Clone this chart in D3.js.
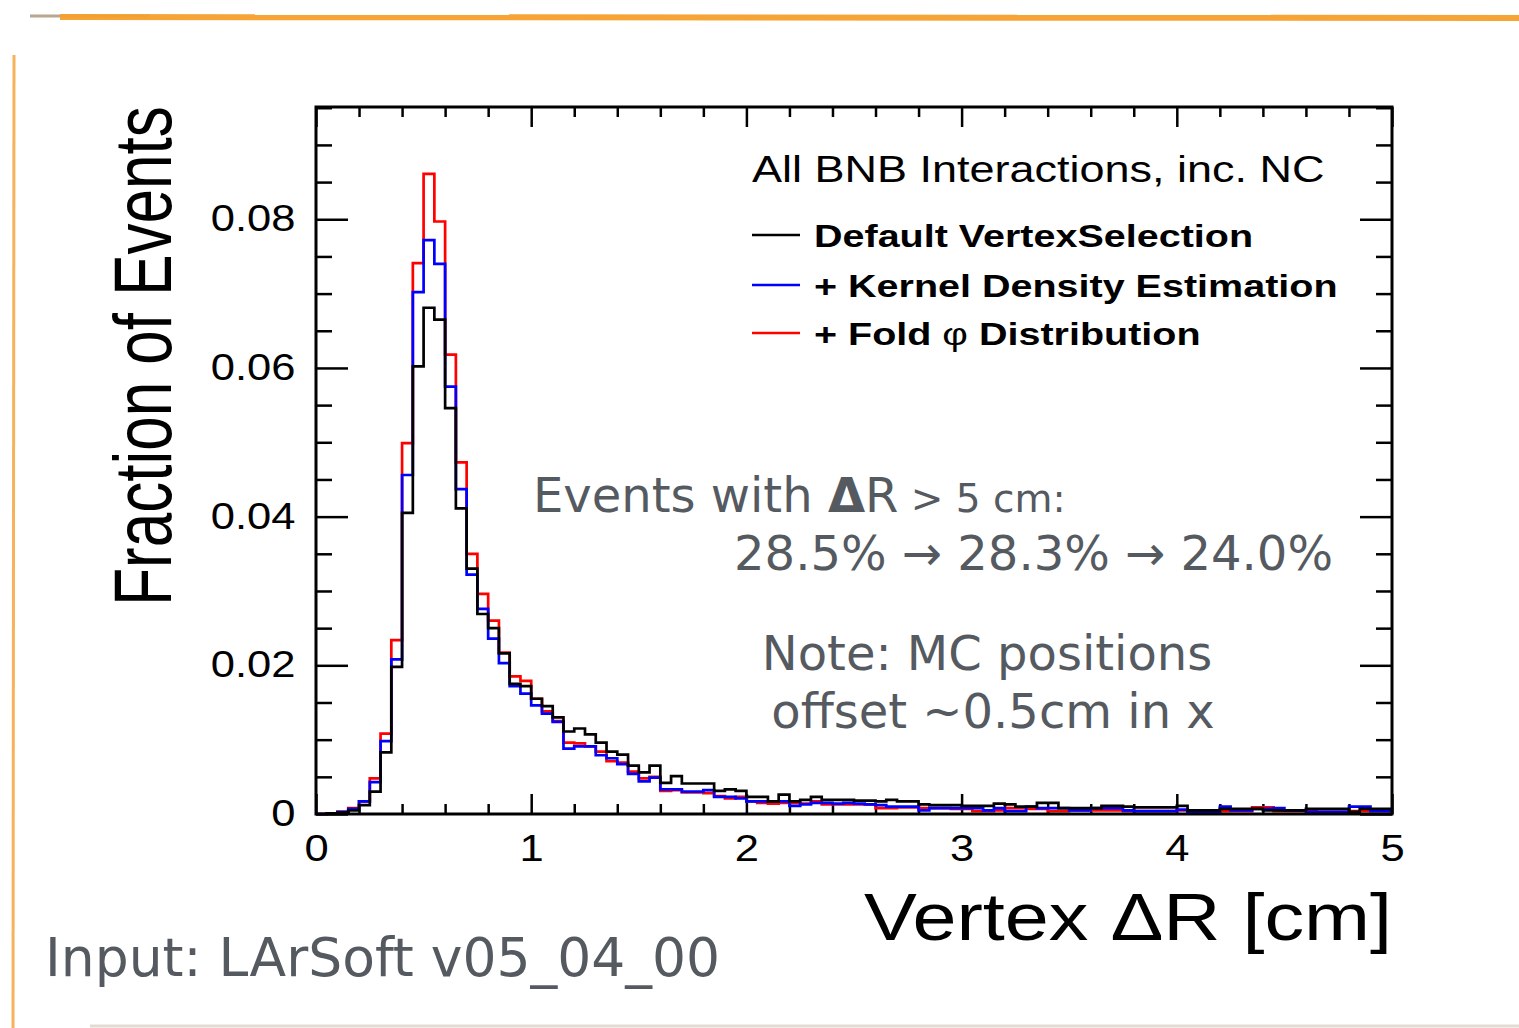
<!DOCTYPE html>
<html>
<head>
<meta charset="utf-8">
<script src="https://cdn.jsdelivr.net/npm/d3@7"></script>
<style>
  body { margin: 0; background: #fff; }
  svg { display: block; }
</style>
</head>
<body>
<div id="chart"></div>
<script>
// Data: fraction of events per 0.05 cm bin, 0 - 5 cm
const binWidth = 0.05;
const xTicks = [0, 1, 2, 3, 4, 5];
const yTicks = [0, 0.02, 0.04, 0.06, 0.08];
const seriesNames = ["Default VertexSelection", "+ Kernel Density Estimation", "+ Fold"];
const seriesColors = ["#000000", "#0000ff", "#ff0000"];

const defaultSel = [
  0, 0.0001, 0.0002, 0.0005, 0.0012, 0.0030, 0.0083, 0.0198, 0.0405, 0.0602,
  0.0681, 0.0665, 0.0546, 0.0411, 0.0330, 0.0269, 0.0250, 0.0216, 0.0175, 0.0172,
  0.0155, 0.0145, 0.0130, 0.0111, 0.0115, 0.0107, 0.0096, 0.0084, 0.0080, 0.0065,
  0.0056, 0.0065, 0.0042, 0.0051, 0.0041, 0.0041, 0.0041, 0.0031, 0.0033, 0.0031,
  0.0023, 0.0023, 0.0017, 0.0026, 0.0017, 0.0019, 0.0023, 0.0019, 0.0019, 0.0019,
  0.0018, 0.0018, 0.0017, 0.0019, 0.0017, 0.0017, 0.0013, 0.0012, 0.0012, 0.0012,
  0.0011, 0.0011, 0.0011, 0.0014, 0.0013, 0.0010, 0.0010, 0.0015, 0.0015, 0.0008,
  0.0008, 0.0008, 0.0008, 0.0011, 0.0011, 0.0010, 0.0009, 0.0009, 0.0009, 0.0009,
  0.0011, 0.0005, 0.0005, 0.0005, 0.0007, 0.0007, 0.0007, 0.0007, 0.0005, 0.0005,
  0.0005, 0.0005, 0.0007, 0.0007, 0.0007, 0.0007, 0.0003, 0.0007, 0.0007, 0.0007
];
const kde = [
  0, 0.0001, 0.0003, 0.0007, 0.0017, 0.0043, 0.0098, 0.0208, 0.0456, 0.0702,
  0.0772, 0.0740, 0.0575, 0.0437, 0.0322, 0.0276, 0.0236, 0.0203, 0.0172, 0.0162,
  0.0146, 0.0135, 0.0124, 0.0088, 0.0091, 0.0091, 0.0079, 0.0075, 0.0067, 0.0054,
  0.0044, 0.0049, 0.0033, 0.0033, 0.0030, 0.0030, 0.0032, 0.0023, 0.0023, 0.0021,
  0.0017, 0.0017, 0.0017, 0.0017, 0.0011, 0.0013, 0.0015, 0.0015, 0.0014, 0.0015,
  0.0014, 0.0013, 0.0012, 0.0010, 0.0010, 0.0010, 0.0005, 0.0008, 0.0008, 0.0008,
  0.0008, 0.0008, 0.0005, 0.0008, 0.0004, 0.0004, 0.0010, 0.0008, 0.0008, 0.0008,
  0.0005, 0.0005, 0.0008, 0.0008, 0.0008, 0.0005, 0.0004, 0.0004, 0.0004, 0.0004,
  0.0006, 0.0003, 0.0003, 0.0003, 0.0010, 0.0005, 0.0005, 0.0007, 0.0007, 0.0008,
  0.0005, 0.0005, 0.0003, 0.0003, 0.0003, 0.0003, 0.0010, 0.0010, 0.0004, 0.0004
];
const foldPhi = [
  0, 0.0001, 0.0003, 0.0008, 0.0017, 0.0048, 0.0108, 0.0234, 0.0499, 0.0741,
  0.0861, 0.0797, 0.0618, 0.0473, 0.0350, 0.0296, 0.0260, 0.0217, 0.0185, 0.0179,
  0.0155, 0.0138, 0.0125, 0.0096, 0.0095, 0.0091, 0.0084, 0.0071, 0.0069, 0.0057,
  0.0048, 0.0050, 0.0031, 0.0032, 0.0029, 0.0029, 0.0028, 0.0024, 0.0021, 0.0023,
  0.0017, 0.0015, 0.0014, 0.0015, 0.0015, 0.0014, 0.0017, 0.0013, 0.0013, 0.0013,
  0.0013, 0.0013, 0.0008, 0.0008, 0.0009, 0.0009, 0.0008, 0.0008, 0.0008, 0.0007,
  0.0007, 0.0004, 0.0004, 0.0005, 0.0008, 0.0008, 0.0007, 0.0007, 0.0004, 0.0004,
  0.0005, 0.0005, 0.0005, 0.0005, 0.0005, 0.0004, 0.0004, 0.0004, 0.0004, 0.0004,
  0.0005, 0.0003, 0.0003, 0.0003, 0.0004, 0.0004, 0.0004, 0.0009, 0.0009, 0.0004,
  0.0004, 0.0004, 0.0004, 0.0003, 0.0003, 0.0003, 0.0004, 0.0004, 0.0004, 0.0004
];

const W = 1519, H = 1028;
const plot = {left: 316, right: 1392, top: 107, bottom: 814};

const svg = d3.select("#chart").append("svg")
    .attr("width", W)
    .attr("height", H);

// slide decoration
svg.append("line")
    .attr("x1", 30).attr("x2", 150).attr("y1", 16).attr("y2", 16)
    .attr("stroke", "#b9a590").attr("stroke-width", 3);
svg.append("line")
    .attr("x1", 60).attr("x2", W).attr("y1", 17).attr("y2", 18)
    .attr("stroke", "#f6a02c").attr("stroke-width", 6).attr("opacity", 0.95);
svg.append("line")
    .attr("x1", 14).attr("x2", 13).attr("y1", 55).attr("y2", H)
    .attr("stroke", "#f5a640").attr("stroke-width", 3).attr("opacity", 0.85);
svg.append("line")
    .attr("x1", 90).attr("x2", W).attr("y1", 1026).attr("y2", 1026)
    .attr("stroke", "#e3dbd2").attr("stroke-width", 3);

const x = d3.scaleLinear().domain([0, 5]).range([plot.left, plot.right]);
const y = d3.scaleLinear().domain([0, 0.0951]).range([plot.bottom, plot.top]);

const minorX = d3.range(0, 5.001, 0.2).filter(d => Math.abs(d - Math.round(d)) > 1e-6);
const minorY = d3.range(0, 0.0951, 0.005).filter(d => Math.abs(d / 0.02 - Math.round(d / 0.02)) > 1e-6);

const axisFont = "'Liberation Sans', Arial, Helvetica, sans-serif";

// major + minor ticks (ROOT style, inward, all four sides)
function tickAxes(){
    svg.append("g").attr("transform", `translate(0,${plot.bottom})`)
        .call(d3.axisBottom(x).tickValues(xTicks).tickSize(-20).tickPadding(21).tickFormat(d3.format("d")));
    svg.append("g").attr("transform", `translate(0,${plot.bottom})`)
        .call(d3.axisBottom(x).tickValues(minorX).tickSize(-10).tickFormat(""));
    svg.append("g").attr("transform", `translate(0,${plot.top})`)
        .call(d3.axisTop(x).tickValues(xTicks).tickSize(-20).tickFormat(""));
    svg.append("g").attr("transform", `translate(0,${plot.top})`)
        .call(d3.axisTop(x).tickValues(minorX).tickSize(-10).tickFormat(""));

    svg.append("g").attr("transform", `translate(${plot.left},0)`)
        .call(d3.axisLeft(y).tickValues(yTicks).tickSize(-32).tickPadding(17)
            .tickFormat(d => d === 0 ? "0" : d3.format(".2f")(d)));
    svg.append("g").attr("transform", `translate(${plot.left},0)`)
        .call(d3.axisLeft(y).tickValues(minorY).tickSize(-16).tickFormat(""));
    svg.append("g").attr("transform", `translate(${plot.right},0)`)
        .call(d3.axisRight(y).tickValues(yTicks).tickSize(-32).tickFormat(""));
    svg.append("g").attr("transform", `translate(${plot.right},0)`)
        .call(d3.axisRight(y).tickValues(minorY).tickSize(-16).tickFormat(""));

    svg.selectAll(".domain").remove();
    svg.selectAll(".tick line").attr("stroke", "#000").attr("stroke-width", 2.5);
    svg.selectAll(".tick text")
        .attr("font-family", axisFont)
        .attr("font-size", 36)
        .attr("fill", "#000")
        .attr("transform", "scale(1.21,1)");
}
tickAxes();

// histograms
const line = d3.line()
    .x(d => x(d[0]))
    .y(d => y(d[1]))
    .curve(d3.curveStepAfter);

function histPoints(vals){
    let pts = vals.map((v, i) => [i * binWidth, v]);
    pts.push([vals.length * binWidth, vals[vals.length - 1]]);
    return pts;
}

[[foldPhi, seriesColors[2]], [kde, seriesColors[1]], [defaultSel, seriesColors[0]]].forEach(function(s){
    svg.append("path")
        .attr("d", line(histPoints(s[0])))
        .attr("fill", "none")
        .attr("stroke", s[1])
        .attr("stroke-width", 2.7);
});

// frame
svg.append("rect")
    .attr("x", plot.left).attr("y", plot.top)
    .attr("width", plot.right - plot.left).attr("height", plot.bottom - plot.top)
    .attr("fill", "none").attr("stroke", "#000").attr("stroke-width", 3);

// axis titles
svg.append("text")
    .attr("transform", `translate(${plot.right},940) scale(1.2,1)`)
    .attr("text-anchor", "end")
    .attr("font-family", axisFont)
    .attr("font-size", 66)
    .text("Vertex \u0394R [cm]");

svg.append("text")
    .attr("transform", "translate(171,356) rotate(-90) scale(1,1.33)")
    .attr("text-anchor", "middle")
    .attr("font-family", axisFont)
    .attr("font-size", 62)
    .text("Fraction of Events");

// legend
svg.append("text")
    .attr("transform", "translate(752,182) scale(1.25,1)")
    .attr("font-family", axisFont)
    .attr("font-size", 36)
    .text("All BNB Interactions, inc. NC");

const legendY = [235, 285, 333];
seriesNames.forEach(function(name, i){
    svg.append("line")
        .attr("x1", 752).attr("x2", 800)
        .attr("y1", legendY[i]).attr("y2", legendY[i])
        .attr("stroke", seriesColors[i]).attr("stroke-width", 2.5);
    let t = svg.append("text")
        .attr("transform", `translate(814,${legendY[i] + 12}) scale(1.235,1)`)
        .attr("font-family", axisFont)
        .attr("font-weight", "bold")
        .attr("font-size", 32)
        .text(name);
    if (i === 2) {
        t.append("tspan").attr("font-weight", "normal").text(" \u03C6 ");
        t.append("tspan").text("Distribution");
    }
});

// slide annotations
const slideFont = "'DejaVu Sans', Verdana, sans-serif";
const grey = "#555a61";

let a1 = svg.append("text")
    .attr("x", 533).attr("y", 512)
    .attr("font-family", slideFont).attr("font-size", 48).attr("fill", grey);
a1.append("tspan").text("Events with ");
a1.append("tspan").attr("font-weight", "bold").text("\u0394");
a1.append("tspan").text("R");
a1.append("tspan").attr("font-size", 39).text(" > 5 cm:");

svg.append("text")
    .attr("x", 1333).attr("y", 570)
    .attr("text-anchor", "end")
    .attr("font-family", slideFont).attr("font-size", 48).attr("fill", grey)
    .text("28.5% \u2192 28.3% \u2192 24.0%");

svg.append("text")
    .attr("x", 987).attr("y", 670)
    .attr("text-anchor", "middle")
    .attr("font-family", slideFont).attr("font-size", 48).attr("fill", grey)
    .text("Note: MC positions");

svg.append("text")
    .attr("x", 993).attr("y", 728)
    .attr("text-anchor", "middle")
    .attr("font-family", slideFont).attr("font-size", 48).attr("fill", grey)
    .text("offset ~0.5cm in x");

svg.append("text")
    .attr("x", 45).attr("y", 976)
    .attr("font-family", slideFont).attr("font-size", 53.5).attr("fill", grey)
    .text("Input: LArSoft v05_04_00");
</script>
</body>
</html>
